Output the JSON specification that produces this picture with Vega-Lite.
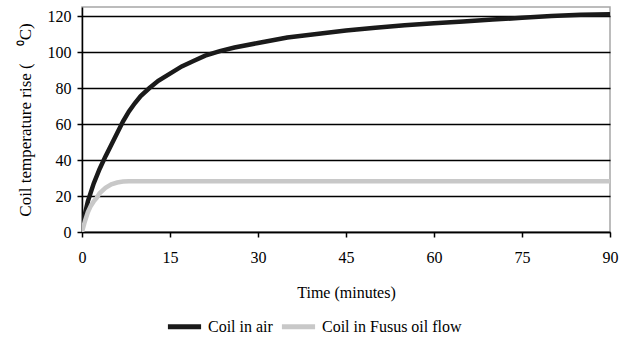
{
  "$schema": "https://vega.github.io/schema/vega-lite/v6.json",
  "width": 528,
  "height": 225,
  "autosize": {"type": "none"},
  "padding": {"left": 82, "top": 7, "right": 22, "bottom": 106},
  "background": "white",
  "config": {
    "font": "Liberation Serif",
    "view": {"stroke": "#a6a6a6", "strokeWidth": 1.5}
  },
  "data": {
    "values": [
      {"t": 0, "v": 3, "s": "Coil in air"},
      {"t": 0.5, "v": 10, "s": "Coil in air"},
      {"t": 1, "v": 17, "s": "Coil in air"},
      {"t": 1.5, "v": 22, "s": "Coil in air"},
      {"t": 2, "v": 27, "s": "Coil in air"},
      {"t": 3, "v": 35, "s": "Coil in air"},
      {"t": 4, "v": 42, "s": "Coil in air"},
      {"t": 5, "v": 48.5, "s": "Coil in air"},
      {"t": 6, "v": 55, "s": "Coil in air"},
      {"t": 7, "v": 61.5, "s": "Coil in air"},
      {"t": 8, "v": 67, "s": "Coil in air"},
      {"t": 9, "v": 71.5, "s": "Coil in air"},
      {"t": 10, "v": 75.5, "s": "Coil in air"},
      {"t": 11.5, "v": 80, "s": "Coil in air"},
      {"t": 13, "v": 84, "s": "Coil in air"},
      {"t": 15, "v": 88, "s": "Coil in air"},
      {"t": 17, "v": 92, "s": "Coil in air"},
      {"t": 19, "v": 95, "s": "Coil in air"},
      {"t": 21, "v": 98, "s": "Coil in air"},
      {"t": 23.5, "v": 100.5, "s": "Coil in air"},
      {"t": 26, "v": 102.5, "s": "Coil in air"},
      {"t": 30, "v": 105, "s": "Coil in air"},
      {"t": 35, "v": 108, "s": "Coil in air"},
      {"t": 40, "v": 110, "s": "Coil in air"},
      {"t": 45, "v": 112, "s": "Coil in air"},
      {"t": 50, "v": 113.5, "s": "Coil in air"},
      {"t": 55, "v": 114.8, "s": "Coil in air"},
      {"t": 60, "v": 116, "s": "Coil in air"},
      {"t": 65, "v": 117, "s": "Coil in air"},
      {"t": 70, "v": 118, "s": "Coil in air"},
      {"t": 75, "v": 119, "s": "Coil in air"},
      {"t": 80, "v": 120, "s": "Coil in air"},
      {"t": 85, "v": 120.7, "s": "Coil in air"},
      {"t": 90, "v": 121, "s": "Coil in air"},
      {"t": 0, "v": 0, "s": "Coil in Fusus oil flow"},
      {"t": 0.5, "v": 6, "s": "Coil in Fusus oil flow"},
      {"t": 1, "v": 11, "s": "Coil in Fusus oil flow"},
      {"t": 1.5, "v": 14.5, "s": "Coil in Fusus oil flow"},
      {"t": 2, "v": 17, "s": "Coil in Fusus oil flow"},
      {"t": 2.5, "v": 19, "s": "Coil in Fusus oil flow"},
      {"t": 3, "v": 21.5, "s": "Coil in Fusus oil flow"},
      {"t": 4, "v": 24.5, "s": "Coil in Fusus oil flow"},
      {"t": 5, "v": 26.5, "s": "Coil in Fusus oil flow"},
      {"t": 6, "v": 27.5, "s": "Coil in Fusus oil flow"},
      {"t": 7, "v": 28, "s": "Coil in Fusus oil flow"},
      {"t": 8, "v": 28.2, "s": "Coil in Fusus oil flow"},
      {"t": 20, "v": 28.2, "s": "Coil in Fusus oil flow"},
      {"t": 40, "v": 28.2, "s": "Coil in Fusus oil flow"},
      {"t": 60, "v": 28.2, "s": "Coil in Fusus oil flow"},
      {"t": 80, "v": 28.2, "s": "Coil in Fusus oil flow"},
      {"t": 90, "v": 28.2, "s": "Coil in Fusus oil flow"}
    ]
  },
  "mark": {"type": "line", "strokeWidth": 4.5, "clip": true},
  "encoding": {
    "x": {
      "field": "t",
      "type": "quantitative",
      "scale": {"domain": [0, 90], "nice": false},
      "axis": {
        "values": [0, 15, 30, 45, 60, 75, 90],
        "grid": false,
        "domainColor": "#000000",
        "domainWidth": 1.5,
        "tickColor": "#000000",
        "tickWidth": 1.5,
        "tickSize": 5,
        "labelFont": "Liberation Serif",
        "labelFontSize": 16,
        "labelColor": "#000000",
        "labelPadding": 12,
        "labelFlush": false,
        "title": "Time (minutes)",
        "titleFont": "Liberation Serif",
        "titleFontSize": 16,
        "titleFontWeight": "normal",
        "titleColor": "#000000",
        "titlePadding": 19
      }
    },
    "y": {
      "field": "v",
      "type": "quantitative",
      "scale": {"domain": [0, 125], "nice": false},
      "axis": {
        "values": [0, 20, 40, 60, 80, 100, 120],
        "grid": true,
        "gridColor": "#000000",
        "gridWidth": 1.5,
        "gridOpacity": 1,
        "domainColor": "#000000",
        "domainWidth": 1.5,
        "tickColor": "#000000",
        "tickWidth": 1.5,
        "tickSize": 5,
        "labelFont": "Liberation Serif",
        "labelFontSize": 16,
        "labelColor": "#000000",
        "labelPadding": 6,
        "title": "Coil temperature rise (\u00a0\u00a0\u00a0\u00a0⁰C)",
        "titleFont": "Liberation Serif",
        "titleFontSize": 17,
        "titleFontWeight": "normal",
        "titleColor": "#000000",
        "titlePadding": 13
      }
    },
    "color": {
      "field": "s",
      "type": "nominal",
      "scale": {"domain": ["Coil in air", "Coil in Fusus oil flow"], "range": ["#1a1a1a", "#c8c8c8"]},
      "legend": {
        "title": null,
        "orient": "none",
        "direction": "horizontal",
        "legendX": 83,
        "legendY": 300,
        "symbolType": "stroke",
        "symbolSize": 1100,
        "symbolStrokeWidth": 5,
        "labelFont": "Liberation Serif",
        "labelFontSize": 16,
        "labelColor": "#000000",
        "columnPadding": -2,
        "labelOffset": 4
      }
    }
  }
}
